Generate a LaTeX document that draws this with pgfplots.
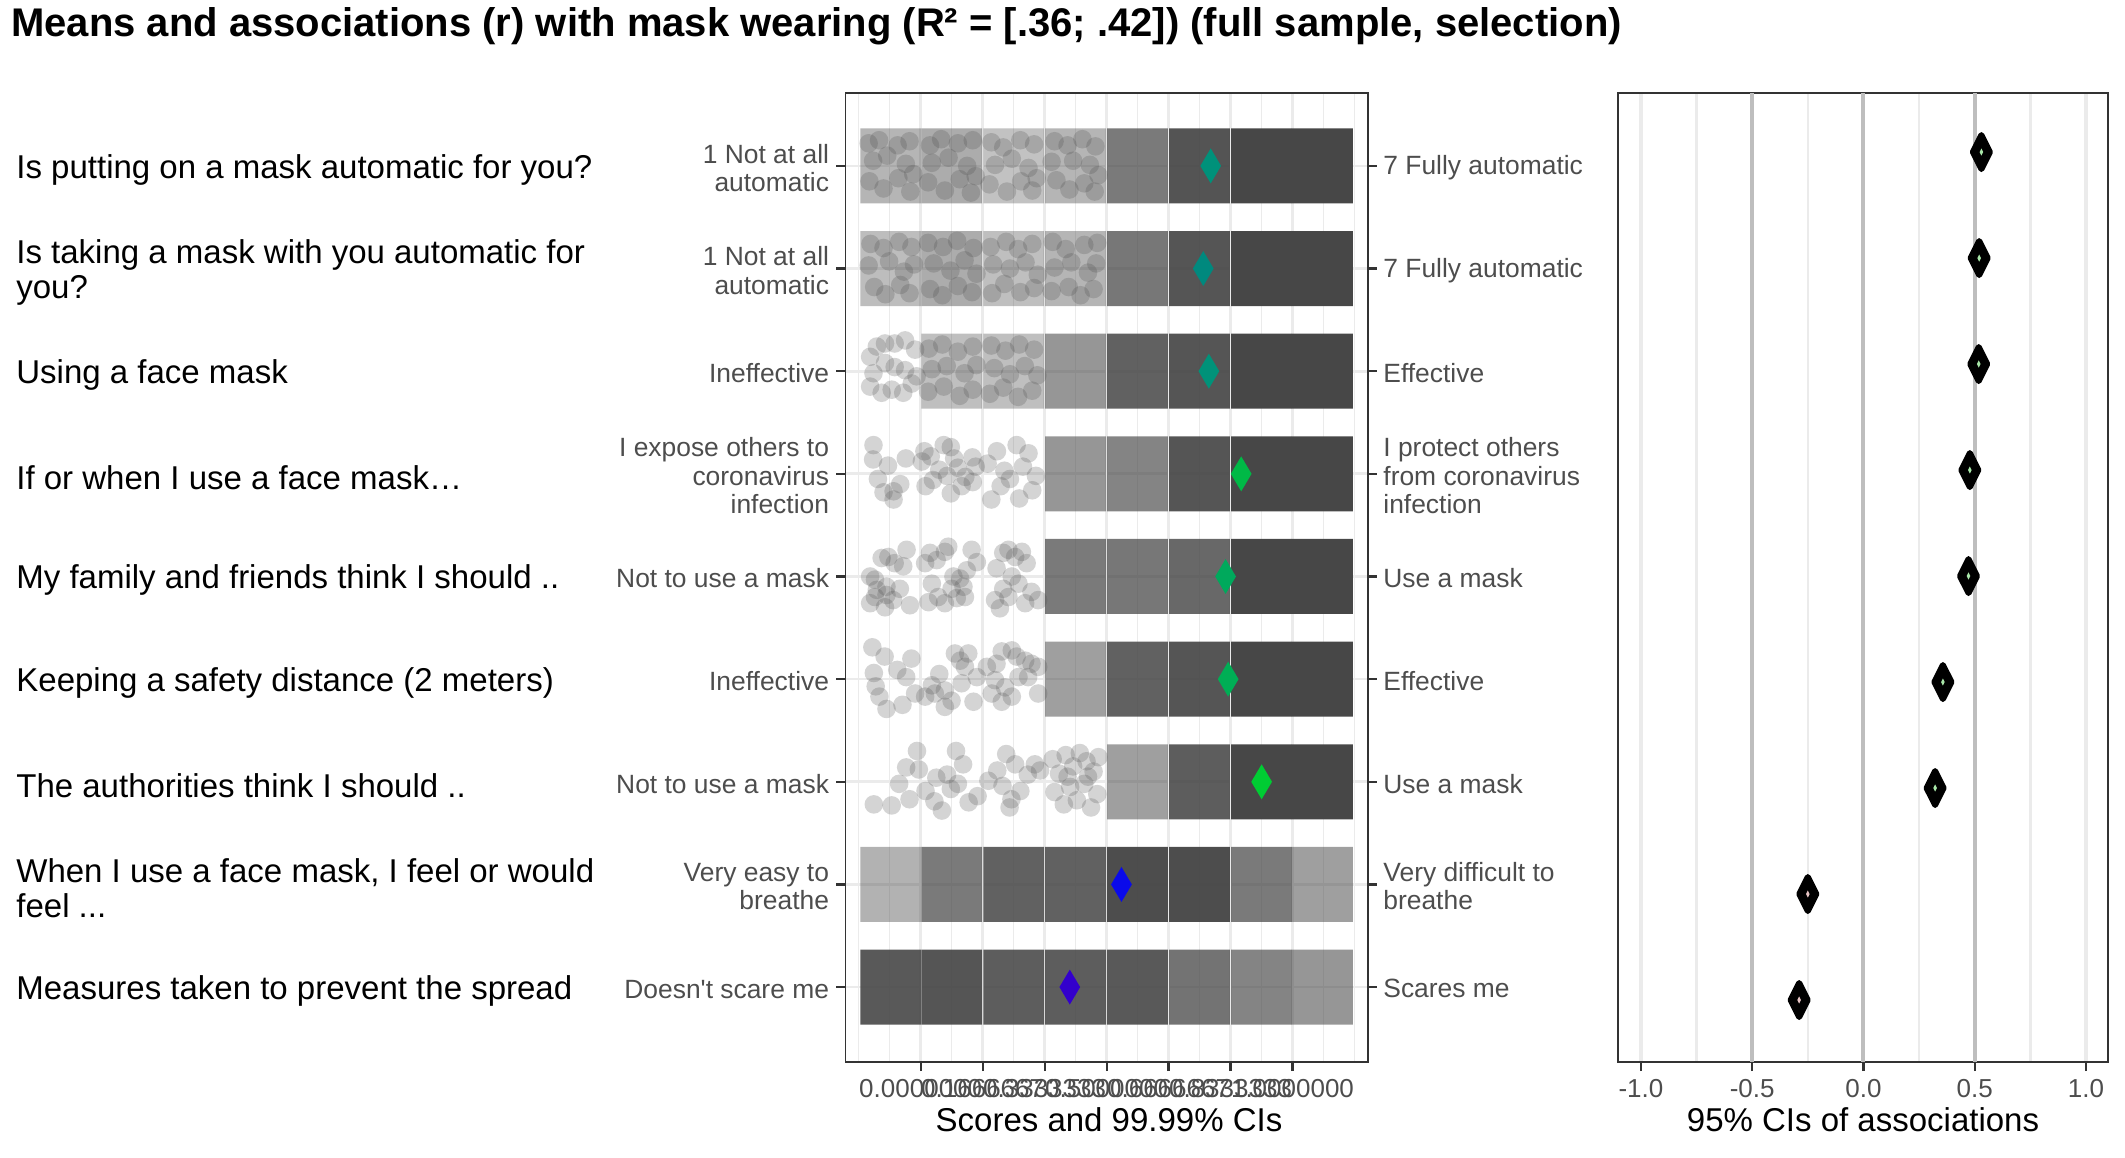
\documentclass[border=0pt]{standalone}
\usepackage{pgfplots}
\pgfplotsset{compat=1.18}
\usepackage{fontspec}
\setmainfont{Liberation Sans}[Ligatures=TeXOff]
\definecolor{axline}{HTML}{333333}
\definecolor{gridc}{HTML}{EBEBEB}
\definecolor{tickc}{HTML}{4D4D4D}
\definecolor{blkc}{HTML}{474747}
\definecolor{circc}{HTML}{4D4D4D}
\definecolor{vgrey}{HTML}{BEBEBE}
\definecolor{mA}{HTML}{00917A}
\definecolor{mB}{HTML}{00897E}
\definecolor{mC}{HTML}{009279}
\definecolor{mD}{HTML}{00B946}
\definecolor{mE}{HTML}{00A95C}
\definecolor{mF}{HTML}{00AE55}
\definecolor{mG}{HTML}{00CC33}
\definecolor{mH}{HTML}{0A0AEA}
\definecolor{mI}{HTML}{3300CC}
\definecolor{ciPos}{HTML}{A8E6A8}
\definecolor{ciNeg}{HTML}{E6C3C3}
\pgfdeclareplotmark{blk}{%
  \pgfsetcornersarced{\pgfpoint{4.6pt}{4.6pt}}%
  \pgfpathmoveto{\pgfpoint{0pt}{-18.75pt}}%
  \pgfpathlineto{\pgfpoint{15.2pt}{-18.75pt}}%
  \pgfpathlineto{\pgfpoint{15.2pt}{18.75pt}}%
  \pgfpathlineto{\pgfpoint{-15.2pt}{18.75pt}}%
  \pgfpathlineto{\pgfpoint{-15.2pt}{-18.75pt}}%
  \pgfpathclose
  \pgfusepathqfill}
\pgfdeclareplotmark{fdot}{%
  \pgfpathcircle{\pgfpointorigin}{\pgfplotmarksize}%
  \pgfusepathqfill}
\pgfdeclareplotmark{fdiam}{%
  \pgfpathmoveto{\pgfqpoint{0pt}{\pgfplotmarksize}}%
  \pgfpathlineto{\pgfqpoint{.75\pgfplotmarksize}{0pt}}%
  \pgfpathlineto{\pgfqpoint{0pt}{-\pgfplotmarksize}}%
  \pgfpathlineto{\pgfqpoint{-.75\pgfplotmarksize}{0pt}}%
  \pgfpathclose
  \pgfusepathqfill}
\newcommand\itemfont{\fontsize{16.5}{17.7}\selectfont}
\newcommand\ancfont{\fontsize{13.2}{14.3}\selectfont}
\newcommand\tickfont{\fontsize{13}{14}\selectfont}
\begin{document}
\begin{tikzpicture}
\useasboundingbox (0,0) rectangle (1062.5pt,-578.5pt);
% ---------------- middle panel ----------------
\begin{axis}[
  at={(422.7pt,-531pt)}, anchor=south west,
  scale only axis, width=261.25pt, height=484.5pt,
  xmin=-0.2025, xmax=1.2028, ymin=0.29, ymax=9.73, y dir=reverse,
  axis line style={draw=axline, line width=0.85pt},
  xtick={0,0.1666667,0.3333333,0.5,0.6666667,0.8333333,1},
  xticklabels={0.0000000,0.1666667,0.3333333,0.5000000,0.6666667,0.8333333,1.0000000},
  minor xtick={-0.1666667,-0.0833333,0.0833333,0.25,0.4166667,0.5833333,0.75,0.9166667,1.0833333,1.1666667},
  ytick={1,2,3,4,5,6,7,8,9},
  yticklabels={{1 Not at all\\automatic},{1 Not at all\\automatic},Ineffective,{I expose others to\\coronavirus\\infection},Not to use a mask,Ineffective,Not to use a mask,{Very easy to\\breathe},Doesn't scare me},
  xtick pos=bottom, ytick pos=both, yticklabel pos=left,
  tick align=outside, major tick length=4.5pt, minor tick length=0pt,
  tick style={draw=axline, line width=1.1pt},
  xmajorgrids, xminorgrids, ymajorgrids,
  major grid style={draw=gridc, line width=1.35pt},
  minor grid style={draw=gridc, line width=0.7pt},
  xticklabel style={font=\tickfont, text=tickc, anchor=north, inner sep=0pt, yshift=-4pt},
  yticklabel style={font=\ancfont, text=tickc, align=right, inner sep=0pt, xshift=-3.5pt, yshift=-1pt},
]
% density blocks of the jittered responses
\addplot[scatter, only marks, mark=blk, point meta=explicit,
  point meta min=0, point meta max=1,
  scatter/@pre marker code/.code={%
    \pgfmathsetmacro\op{\pgfplotspointmetatransformed/1000}%
    \scope[fill=blkc, fill opacity=\op, draw=none]},
  scatter/@post marker code/.code={\endscope},
] table[x=x, y=y, meta=d] {
x y d
-0.0803 1 0.40
0.0833 1 0.45
0.2500 1 0.33
0.4167 1 0.40
0.5833 1 0.72
0.7500 1 0.93
0.9167 1 1.00
1.0803 1 1.00
-0.0803 2 0.36
0.0833 2 0.45
0.2500 2 0.35
0.4167 2 0.40
0.5833 2 0.74
0.7500 2 0.92
0.9167 2 1.00
1.0803 2 1.00
0.0833 3 0.35
0.2500 3 0.35
0.4167 3 0.57
0.5833 3 0.86
0.7500 3 0.92
0.9167 3 1.00
1.0803 3 1.00
0.4167 4 0.57
0.5833 4 0.67
0.7500 4 0.92
0.9167 4 1.00
1.0803 4 1.00
0.4167 5 0.72
0.5833 5 0.74
0.7500 5 0.82
0.9167 5 1.00
1.0803 5 1.00
0.4167 6 0.52
0.5833 6 0.86
0.7500 6 0.92
0.9167 6 1.00
1.0803 6 1.00
0.5833 7 0.52
0.7500 7 0.88
0.9167 7 1.00
1.0803 7 1.00
-0.0803 8 0.42
0.0833 8 0.72
0.2500 8 0.86
0.4167 8 0.86
0.5833 8 0.97
0.7500 8 0.97
0.9167 8 0.72
1.0803 8 0.52
-0.0803 9 0.90
0.0833 9 0.92
0.2500 9 0.88
0.4167 9 0.88
0.5833 9 0.90
0.7500 9 0.76
0.9167 9 0.67
1.0803 9 0.57
};
% individual responses where they are sparse enough to be seen
\addplot[only marks, mark=fdot, mark size=4.65pt, mark options={fill=circc, fill opacity=0.24}] coordinates {
(-0.140,0.78) (-0.112,0.75) (-0.062,0.80) (-0.030,0.76) (-0.128,0.95) (-0.090,0.90) (-0.040,0.98) (-0.020,1.08) (-0.138,1.15) (-0.100,1.22) (-0.060,1.12) (-0.028,1.25)
(0.025,0.80) (0.055,0.74) (0.100,0.78) (0.140,0.75) (0.030,0.97) (0.075,0.92) (0.125,1.00) (0.148,1.10) (0.020,1.16) (0.065,1.24) (0.105,1.13) (0.135,1.26)
(0.190,0.77) (0.222,0.82) (0.268,0.75) (0.305,0.79) (0.200,0.99) (0.245,0.93) (0.290,1.02) (0.312,1.12) (0.185,1.18) (0.232,1.25) (0.270,1.15) (0.300,1.24)
(0.360,0.76) (0.395,0.80) (0.435,0.74) (0.470,0.81) (0.352,0.96) (0.410,0.95) (0.455,0.99) (0.478,1.09) (0.365,1.14) (0.400,1.23) (0.440,1.17) (0.468,1.25)
(-0.135,1.76) (-0.100,1.80) (-0.058,1.74) (-0.025,1.79) (-0.140,1.97) (-0.085,1.93) (-0.045,2.03) (-0.018,1.96) (-0.125,2.18) (-0.095,2.25) (-0.055,2.16) (-0.030,2.24)
(0.020,1.75) (0.060,1.79) (0.098,1.73) (0.142,1.80) (0.035,1.95) (0.080,2.02) (0.118,1.92) (0.150,2.05) (0.025,2.20) (0.058,2.26) (0.100,2.17) (0.138,2.23)
(0.188,1.79) (0.230,1.74) (0.262,1.81) (0.300,1.76) (0.195,1.96) (0.240,2.00) (0.282,1.94) (0.315,2.06) (0.192,2.24) (0.225,2.15) (0.268,2.23) (0.305,2.19)
(0.355,1.74) (0.390,1.81) (0.440,1.77) (0.475,1.75) (0.360,1.99) (0.405,1.94) (0.450,2.04) (0.472,1.95) (0.352,2.22) (0.398,2.18) (0.430,2.26) (0.465,2.20)
(-0.136,2.86) (-0.118,2.76) (-0.096,2.73) (-0.070,2.73) (-0.042,2.70) (-0.015,2.79) (-0.127,3.02) (-0.136,3.15) (-0.105,3.21) (-0.078,3.18) (-0.047,3.21) (-0.024,3.12) (-0.070,2.96) (-0.042,2.99) (-0.011,3.05) (-0.096,2.92)
(0.022,2.78) (0.058,2.74) (0.100,2.81) (0.140,2.76) (0.030,2.98) (0.070,2.95) (0.118,3.02) (0.150,2.94) (0.020,3.20) (0.062,3.15) (0.105,3.24) (0.140,3.18)
(0.190,2.75) (0.228,2.80) (0.265,2.74) (0.305,2.79) (0.198,2.97) (0.240,3.03) (0.280,2.95) (0.314,3.04) (0.186,3.22) (0.222,3.16) (0.262,3.25) (0.300,3.19)
(-0.127,3.72) (-0.128,3.86) (-0.088,3.92) (-0.115,4.05) (-0.073,4.17) (-0.073,4.25) (-0.040,3.85) (-0.055,4.10) (-0.100,4.18)
(0.010,3.78) (0.003,3.88) (0.027,3.83) (0.062,3.72) (0.081,3.74) (0.090,3.85) (0.100,3.94) (0.071,4.02) (0.013,4.12) (0.033,4.06) (0.081,4.19) (0.139,3.84) (0.148,3.93) (0.120,4.03) (0.110,4.12) (0.050,3.96) (0.140,4.08)
(0.180,3.90) (0.205,3.78) (0.225,3.97) (0.258,3.72) (0.290,3.80) (0.275,3.93) (0.215,4.12) (0.240,4.05) (0.300,4.16) (0.265,4.24) (0.190,4.25) (0.310,4.02)
(-0.136,5.00) (-0.123,5.03) (-0.105,4.82) (-0.087,4.81) (-0.070,4.87) (-0.047,4.90) (-0.038,4.74) (-0.123,5.20) (-0.092,5.18) (-0.096,5.30) (-0.074,5.23) (-0.136,5.26) (-0.118,5.13) (-0.029,5.28) (-0.056,5.12) (-0.092,5.10)
(0.012,4.87) (0.025,4.77) (0.043,4.84) (0.065,4.76) (0.074,4.71) (0.088,5.00) (0.106,5.02) (0.124,4.94) (0.137,4.74) (0.151,4.86) (0.030,5.07) (0.047,5.20) (0.065,5.26) (0.097,5.21) (0.119,5.20) (0.021,5.25) (0.083,5.12) (0.115,5.10)
(0.204,4.92) (0.222,4.77) (0.236,4.74) (0.254,4.81) (0.272,4.76) (0.285,4.87) (0.245,5.00) (0.263,5.07) (0.222,5.12) (0.200,5.23) (0.236,5.20) (0.298,5.15) (0.316,5.23) (0.281,5.26) (0.213,5.31)
(-0.130,5.69) (-0.097,5.78) (-0.126,5.94) (-0.121,6.07) (-0.111,6.17) (-0.063,5.91) (-0.025,5.80) (-0.039,5.98) (-0.015,6.14) (-0.092,6.29) (-0.049,6.25)
(0.030,6.06) (0.038,6.14) (0.065,6.11) (0.092,5.75) (0.106,5.82) (0.128,5.75) (0.119,5.88) (0.110,6.04) (0.083,6.21) (0.142,6.22) (0.151,5.98) (0.012,6.17) (0.065,6.27) (0.050,5.95)
(0.178,5.88) (0.204,5.85) (0.218,5.73) (0.245,5.72) (0.258,5.78) (0.281,5.82) (0.298,5.85) (0.316,5.88) (0.200,6.01) (0.227,6.08) (0.263,5.98) (0.289,5.98) (0.245,6.17) (0.218,6.22) (0.191,6.14) (0.316,6.14)
(-0.126,7.22) (-0.078,7.23) (-0.058,7.02) (-0.039,6.86) (-0.010,6.70) (-0.005,6.88) (-0.030,7.17)
(0.037,7.19) (0.057,7.28) (0.042,6.96) (0.071,6.93) (0.095,6.70) (0.114,6.83) (0.100,7.02) (0.129,7.20) (0.081,7.07) (0.153,7.14) (0.013,7.09)
(0.206,6.89) (0.230,6.73) (0.254,6.83) (0.244,7.17) (0.220,7.04) (0.288,6.93) (0.307,6.83) (0.268,7.09) (0.182,6.99) (0.239,7.25) (0.321,6.89)
(0.355,6.78) (0.372,6.92) (0.390,6.74) (0.410,6.85) (0.428,6.72) (0.446,6.80) (0.465,6.90) (0.478,6.76) (0.360,7.10) (0.385,7.22) (0.402,7.05) (0.420,7.18) (0.440,7.02) (0.458,7.25) (0.475,7.12) (0.395,6.95) (0.450,6.95)
};
% means
\addplot[only marks, mark=fdiam, mark size=8.75pt, mark options={xscale=0.79, fill=mA}] coordinates {(0.780,1)};
\addplot[only marks, mark=fdiam, mark size=8.75pt, mark options={xscale=0.79, fill=mB}] coordinates {(0.760,2)};
\addplot[only marks, mark=fdiam, mark size=8.75pt, mark options={xscale=0.79, fill=mC}] coordinates {(0.775,3)};
\addplot[only marks, mark=fdiam, mark size=8.75pt, mark options={xscale=0.79, fill=mD}] coordinates {(0.862,4)};
\addplot[only marks, mark=fdiam, mark size=8.75pt, mark options={xscale=0.79, fill=mE}] coordinates {(0.820,5)};
\addplot[only marks, mark=fdiam, mark size=8.75pt, mark options={xscale=0.79, fill=mF}] coordinates {(0.827,6)};
\addplot[only marks, mark=fdiam, mark size=8.75pt, mark options={xscale=0.79, fill=mG}] coordinates {(0.917,7)};
\addplot[only marks, mark=fdiam, mark size=8.75pt, mark options={xscale=0.79, fill=mH}] coordinates {(0.540,8)};
\addplot[only marks, mark=fdiam, mark size=8.75pt, mark options={xscale=0.79, fill=mI}] coordinates {(0.401,9)};
\end{axis}
% ---------------- right panel ----------------
\begin{axis}[
  at={(809pt,-531pt)}, anchor=south west,
  scale only axis, width=245pt, height=484.5pt,
  xmin=-1.103, xmax=1.099, ymin=0.443, ymax=9.585, y dir=reverse,
  axis line style={draw=axline, line width=0.85pt},
  xtick={-1,-0.5,0,0.5,1},
  xticklabels={-1.0,-0.5,0.0,0.5,1.0},
  minor xtick={-0.75,-0.25,0.25,0.75},
  ytick=\empty,
  xtick pos=bottom,
  tick align=outside, major tick length=4.5pt, minor tick length=0pt,
  tick style={draw=axline, line width=1.1pt},
  xmajorgrids, xminorgrids,
  major grid style={draw=gridc, line width=2pt},
  minor grid style={draw=gridc, line width=1.3pt},
  xticklabel style={font=\tickfont, text=tickc, anchor=north, inner sep=0pt, yshift=-4pt},
]
\addplot[vgrey, line width=2pt] coordinates {(-0.5,0.443) (-0.5,9.585)};
\addplot[vgrey, line width=2pt] coordinates {(0,0.443) (0,9.585)};
\addplot[vgrey, line width=2pt] coordinates {(0.5,0.443) (0.5,9.585)};
\addplot[only marks, mark=diamond*, mark size=8.5pt, mark options={xscale=0.667, draw=black, fill=black, line width=3pt, line join=round}] coordinates {
(0.530,1) (0.520,2) (0.518,3) (0.478,4) (0.472,5) (0.357,6) (0.322,7) (-0.250,8) (-0.289,9)};
\addplot[only marks, mark=fdiam, mark size=1.8pt, mark options={xscale=0.667, fill=ciPos}] coordinates {
(0.530,1) (0.520,2) (0.518,3) (0.478,4) (0.472,5) (0.357,6) (0.322,7)};
\addplot[only marks, mark=fdiam, mark size=1.8pt, mark options={xscale=0.667, fill=ciNeg}] coordinates {
(-0.250,8) (-0.289,9)};
\end{axis}
% ---------------- texts ----------------
\node[anchor=base west, inner sep=0pt, font=\fontsize{20}{24}\bfseries\selectfont] at (5.5pt,-18pt)
  {Means and associations (r) with mask wearing (R² = [.36; .42]) (full sample, selection)};
\begin{scope}[every node/.style={anchor=west, align=left, inner sep=0pt, font=\itemfont, yshift=-2pt}]
\node at (8pt,-83.0pt) {Is putting on a mask automatic for you?};
\node at (8pt,-134.3pt) {Is taking a mask with you automatic for\\you?};
\node at (8pt,-185.6pt) {Using a face mask};
\node at (8pt,-236.9pt) {If or when I use a face mask…};
\node at (8pt,-288.2pt) {My family and friends think I should ..};
\node at (8pt,-339.5pt) {Keeping a safety distance (2 meters)};
\node at (8pt,-390.8pt) {The authorities think I should ..};
\node at (8pt,-442.1pt) {When I use a face mask, I feel or would\\feel ...};
\node at (8pt,-493.4pt) {Measures taken to prevent the spread};
\end{scope}
\begin{scope}[every node/.style={anchor=west, align=left, inner sep=0pt, font=\ancfont, text=tickc, yshift=-1pt}]
\node at (691.5pt,-83.0pt) {7 Fully automatic};
\node at (691.5pt,-134.3pt) {7 Fully automatic};
\node at (691.5pt,-185.6pt) {Effective};
\node at (691.5pt,-236.9pt) {I protect others\\from coronavirus\\infection};
\node at (691.5pt,-288.2pt) {Use a mask};
\node at (691.5pt,-339.5pt) {Effective};
\node at (691.5pt,-390.8pt) {Use a mask};
\node at (691.5pt,-442.1pt) {Very difficult to\\breathe};
\node at (691.5pt,-493.4pt) {Scares me};
\end{scope}
\node[anchor=base, inner sep=0pt, font=\itemfont] at (554.5pt,-565.5pt) {Scores and 99.99\% CIs};
\node[anchor=base, inner sep=0pt, font=\itemfont] at (931.5pt,-565.5pt) {95\% CIs of associations};
\end{tikzpicture}
\end{document}
